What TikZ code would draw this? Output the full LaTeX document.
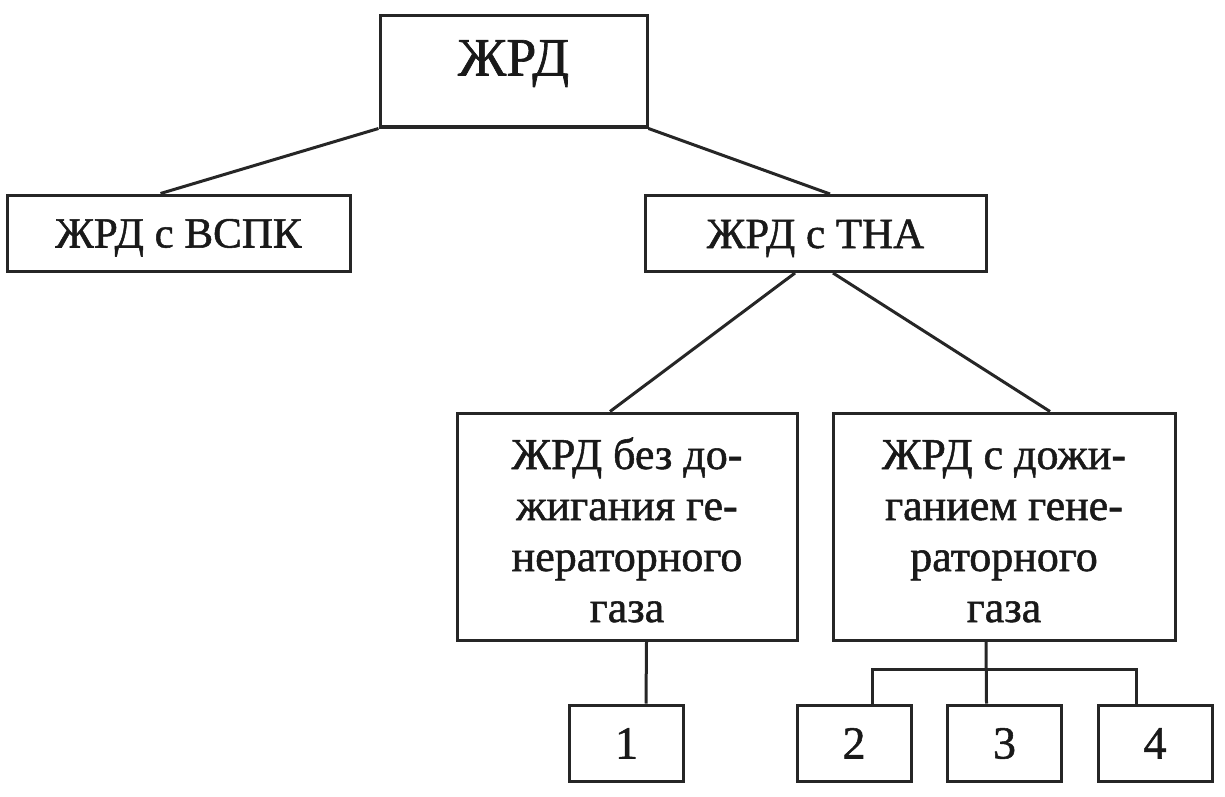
\documentclass[tikz,border=0pt]{standalone}
\usepackage{fontspec}
\setmainfont{Liberation Serif}
\newfontfamily\scanfont{Liberation Serif}[FakeBold=1.2]
\begin{document}
\begin{tikzpicture}[x=1pt, y=-1pt,
        box/.style = {draw=black!85, line width=3pt, inner sep=0pt, align=center, text=black!90},
        strip/.style = {box, minimum width=342pt, minimum height=76pt, text height=29pt, text depth=0pt},
        tall/.style = {box, minimum width=341pt, minimum height=227pt, text height=191pt, text depth=0pt, font=\scanfont\fontsize{44}{51}\selectfont},
        small/.style = {box, minimum width=114pt, minimum height=76pt, text height=31pt, text depth=0pt, font=\scanfont\fontsize{46}{52}\selectfont},
        link/.style = {draw=black!85, line width=3pt},
        font=\scanfont\fontsize{43}{52}\selectfont
    ]
    \useasboundingbox (0,0) rectangle (1225,797);

    \node[box, minimum width=267pt, minimum height=111pt, text height=42pt, text depth=34pt, font=\scanfont\fontsize{54}{60}\selectfont] (zhrd) at (513.5,71.5) {ЖРД};
    \node[strip, minimum width=343pt] (vspk) at (178.5,233) {ЖРД с ВСПК};
    \node[strip, minimum width=341pt] (tna) at (815.5,233.5) {ЖРД с ТНА};

    \node[tall, minimum width=340pt] (bez) at (627,526.5) {ЖРД без до-\\жигания ге-\\нераторного\\газа};
    \node[tall, minimum width=342pt] (dozh) at (1004,526.5) {ЖРД с дожи-\\ганием гене-\\раторного\\газа};

    \node[small] (n1) at (626.5,743) {1};
    \node[small] (n2) at (854,743) {2};
    \node[small] (n3) at (1004.5,743) {3};
    \node[small] (n4) at (1155,743) {4};

    \draw[link] (zhrd.south west) -- ([xshift=-18pt]vspk.north);
    \draw[link] (zhrd.south east) -- ([xshift=14.5pt]tna.north);
    \draw[link] ([xshift=-20.5pt]tna.south) -- ([xshift=-17pt]bez.north);
    \draw[link] ([xshift=17.5pt]tna.south) -- ([xshift=46pt]dozh.north);

    \draw[link] ([xshift=19.5pt]bez.south) -- ([xshift=19.5pt]n1.north);
    \coordinate (fork) at ([xshift=-18pt,yshift=-28pt]dozh.south);
    \draw[link] ([xshift=-18pt]dozh.south) -- ([xshift=-18pt]n3.north);
    \draw[link] ([xshift=18pt]n2.north) |- (fork) -| ([xshift=-19pt]n4.north);
\end{tikzpicture}
\end{document}
